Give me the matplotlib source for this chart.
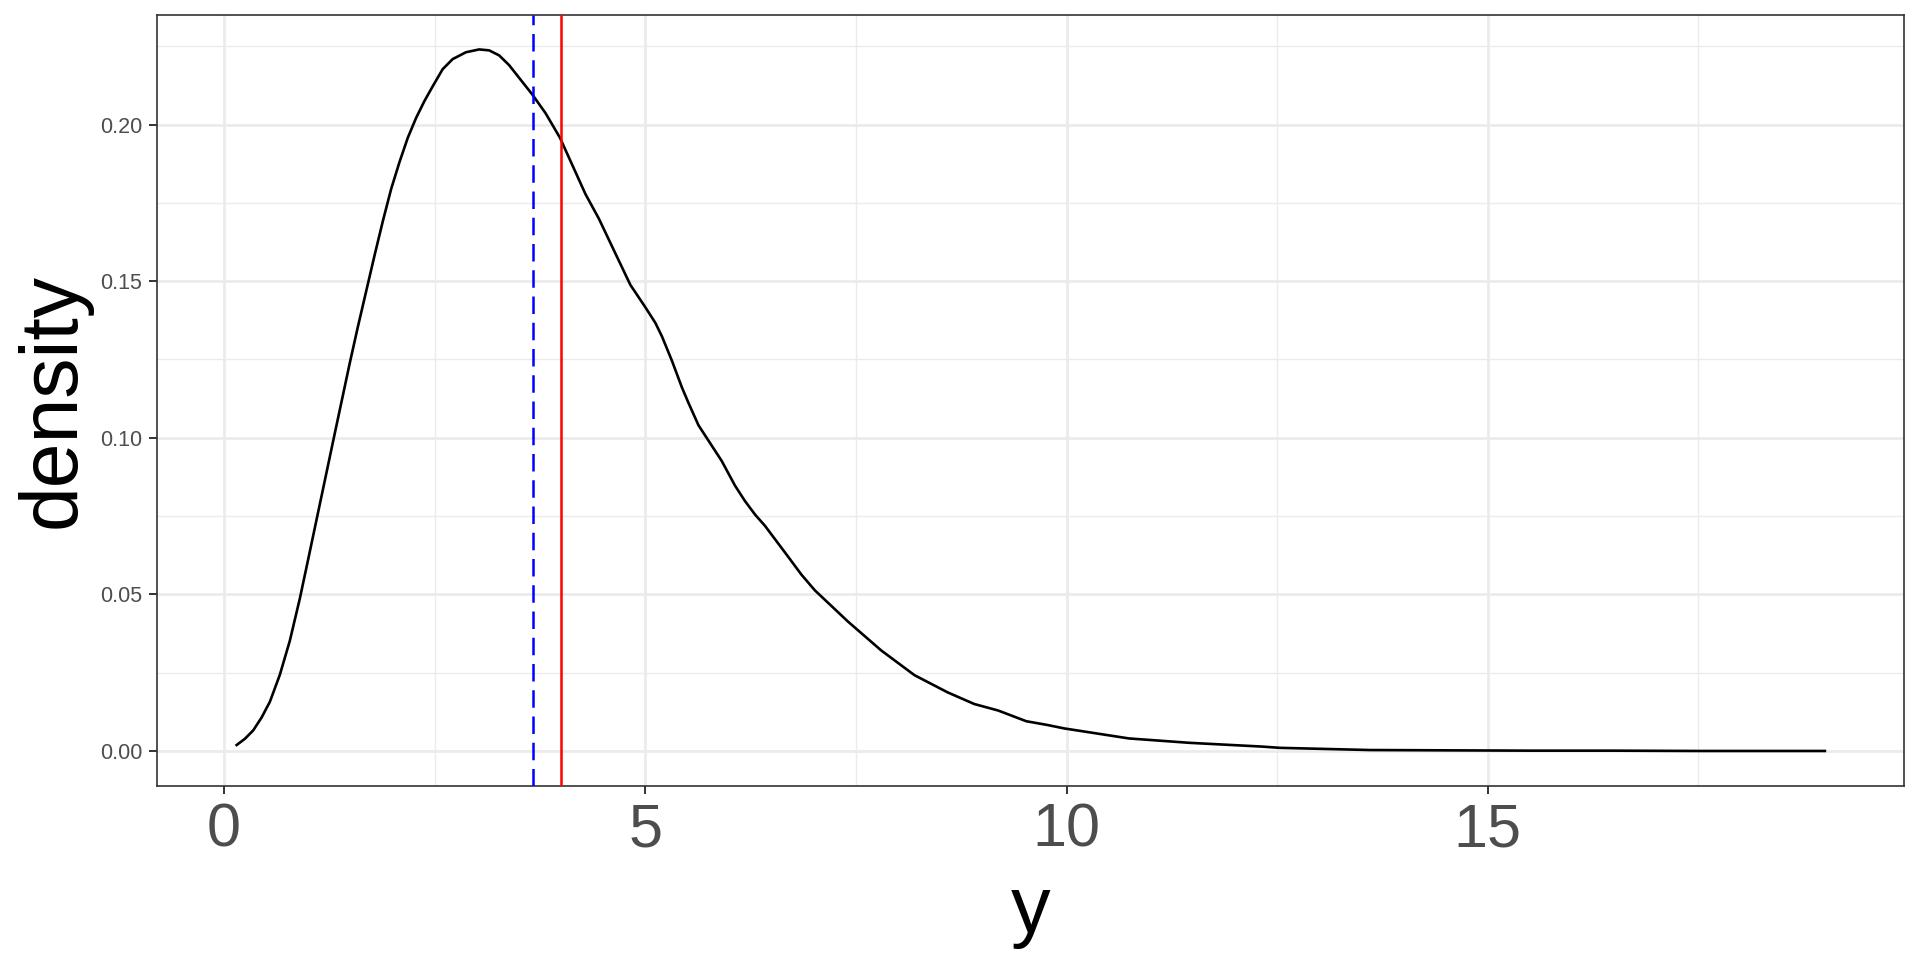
import matplotlib
matplotlib.use("Agg")
from matplotlib import pyplot as plt
from matplotlib.ticker import MultipleLocator

# density curve
dens_x = [0.150, 0.248, 0.347, 0.446, 0.544, 0.662, 0.781, 0.899, 0.998, 1.096,
          1.195, 1.293, 1.392, 1.491, 1.589, 1.688, 1.786, 1.885, 1.983, 2.082,
          2.181, 2.279, 2.378, 2.476, 2.595, 2.713, 2.871, 3.028, 3.147, 3.265,
          3.383, 3.521, 3.659, 3.817, 3.987, 4.172, 4.290, 4.448, 4.646, 4.823,
          5.000, 5.119, 5.197, 5.316, 5.434, 5.513, 5.631, 5.907, 6.065, 6.183,
          6.302, 6.420, 6.696, 6.853, 7.012, 7.406, 7.800, 8.195, 8.589, 8.904,
          9.190, 9.521, 9.772, 9.972, 10.74, 11.46, 12.32, 12.53, 13.60, 14.50,
          15.50, 16.50, 17.50, 19.00]
dens_y = [0.0019, 0.0039, 0.0066, 0.0107, 0.0157, 0.0243, 0.0352, 0.0486, 0.0611, 0.0736,
          0.0862, 0.0987, 0.1112, 0.1237, 0.1355, 0.1469, 0.1582, 0.1692, 0.1794, 0.1880,
          0.1958, 0.2021, 0.2075, 0.2122, 0.2177, 0.2209, 0.2231, 0.2240, 0.2237, 0.2221,
          0.2190, 0.2143, 0.2096, 0.2036, 0.1958, 0.1848, 0.1778, 0.1700, 0.1588, 0.1488,
          0.1417, 0.1367, 0.1324, 0.1246, 0.1161, 0.1111, 0.1040, 0.0926, 0.0847, 0.0798,
          0.0755, 0.0719, 0.0620, 0.0563, 0.0513, 0.0413, 0.0321, 0.0242, 0.0187, 0.0150,
          0.0129, 0.0095, 0.0083, 0.0072, 0.0040, 0.0026, 0.0014, 0.0010, 0.0003, 0.0002,
          0.0001, 0.0001, 0.0000, 0.0000]

median_y = 3.67
mean_y = 4.00

x_ticks = [0, 5, 10, 15]
y_ticks = [0.00, 0.05, 0.10, 0.15, 0.20]

plt.rcParams['font.family'] = ['Liberation Sans', 'DejaVu Sans']

fig = plt.figure(figsize=(19.2, 9.6), dpi=100)
ax = fig.add_axes([0.0818, 0.1812, 0.9917 - 0.0818, 0.9844 - 0.1812])

ax.plot(dens_x, dens_y, color="black", lw=1.9, zorder=3)
ax.axvline(median_y, color="blue", lw=1.8, dashes=(7, 3.5), zorder=4)
ax.axvline(mean_y, color="red", lw=1.8, zorder=4)

ax.set_xlim(-0.795, 19.94)
ax.set_ylim(-0.0112, 0.2350)

ax.set_xticks(x_ticks)
ax.set_xticklabels([str(t) for t in x_ticks])
ax.set_yticks(y_ticks)
ax.set_yticklabels(["%.2f" % t for t in y_ticks])
ax.xaxis.set_minor_locator(MultipleLocator(2.5))
ax.yaxis.set_minor_locator(MultipleLocator(0.025))

ax.grid(which="major", color="#EBEBEB", lw=2.0, zorder=0)
ax.grid(which="minor", color="#EBEBEB", lw=1.0, zorder=0)
ax.set_axisbelow(True)

for s in ax.spines.values():
    s.set_color("#333333")
    s.set_linewidth(1.2)

ax.tick_params(which="major", color="#333333", length=5.5, width=1.4)
ax.tick_params(which="minor", length=0)
ax.tick_params(axis="x", labelsize=44, labelcolor="#4D4D4D", pad=6)
ax.tick_params(axis="y", labelsize=15.5, labelcolor="#4D4D4D", pad=5)

ax.set_xlabel("y", fontsize=57, labelpad=11)
ax.set_ylabel("density", fontsize=58, labelpad=6)

fig.savefig("out.png", dpi=100, facecolor="white")
